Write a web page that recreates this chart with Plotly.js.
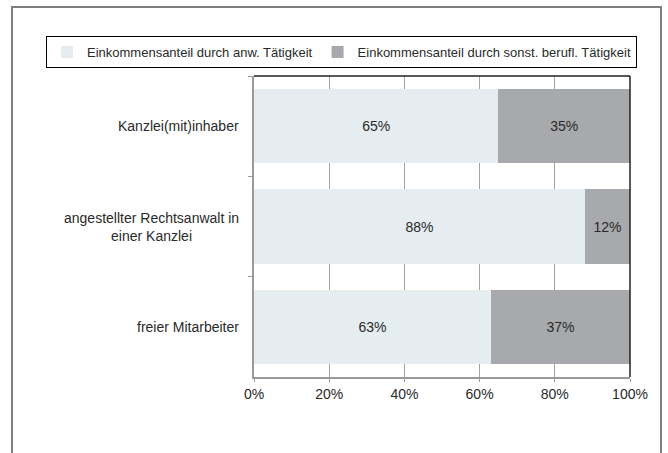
<!DOCTYPE html>
<html>
<head>
<meta charset="utf-8">
<script src="https://cdn.plot.ly/plotly-3.0.1.min.js"></script>
<style>html,body{margin:0;padding:0;background:#fff;}#chart{width:668px;height:453px;}</style>
</head>
<body>
<div id="chart"></div>
<script>
// Data
const categories = ["Kanzlei(mit)inhaber", "angestellter Rechtsanwalt in<br>einer Kanzlei", "freier Mitarbeiter"];
const seriesNames = ["Einkommensanteil durch anw. Tätigkeit", "Einkommensanteil durch sonst. berufl. Tätigkeit"];
const anwValues = [65, 88, 63];
const sonstValues = [35, 12, 37];
const xTickValues = [0, 20, 40, 60, 80, 100];
const xTickLabels = ["0%", "20%", "40%", "60%", "80%", "100%"];

// Layout geometry (pixels)
const W = 668, H = 453;
const L = 254, R = 630, T = 76, B = 377;
const pw = R - L, ph = B - T;
const px = v => (v - L) / pw;
const py = v => (B - v) / ph;

const font = "Arial";

const traces = [
  {
    type: "bar", orientation: "h", name: seriesNames[0],
    y: categories, x: anwValues,
    marker: {color: "#e6edf1", line: {width: 0}},
    text: anwValues.map(v => v + "%"), textposition: "inside",
    insidetextanchor: "middle", textangle: 0, constraintext: "none",
    textfont: {family: font, size: 14, color: "#2a2a2a"},
    hoverinfo: "none"
  },
  {
    type: "bar", orientation: "h", name: seriesNames[1],
    y: categories, x: sonstValues,
    marker: {color: "#a8a9ac", line: {width: 0}},
    text: sonstValues.map(v => v + "%"), textposition: "inside",
    insidetextanchor: "middle", textangle: 0, constraintext: "none",
    textfont: {family: font, size: 14, color: "#2a2a2a"},
    hoverinfo: "none"
  }
];

const annotations = categories.map(c => ({
  xref: "paper", yref: "y", x: 0, y: c, xshift: -13,
  xanchor: "right", yanchor: "middle", align: "center",
  text: c, showarrow: false,
  font: {family: font, size: 14, color: "#2a2a2a"}
}));

const layout = {
  width: W, height: H,
  margin: {l: L, r: W - R, t: T, b: H - B, pad: 0},
  paper_bgcolor: "#ffffff", plot_bgcolor: "#ffffff",
  barmode: "stack", bargap: 0.26,
  font: {family: font, size: 14, color: "#2a2a2a"},
  showlegend: true,
  legend: {
    orientation: "h", x: px(46), xanchor: "left", y: py(36), yanchor: "top",
    bordercolor: "#000000", borderwidth: 1, bgcolor: "#ffffff",
    font: {family: font, size: 13, color: "#2a2a2a"},
    itemwidth: 30, traceorder: "normal"
  },
  xaxis: {
    range: [0, 100], tickmode: "array", tickvals: xTickValues, ticktext: xTickLabels,
    showgrid: true, gridcolor: "#a3a3a3", gridwidth: 1,
    showline: true, linecolor: "#9a9a9a", linewidth: 2,
    ticks: "outside", ticklen: 3, tickcolor: "#9a9a9a",
    zeroline: false, fixedrange: true, automargin: false,
    tickfont: {family: font, size: 14, color: "#2a2a2a"}
  },
  yaxis: {
    type: "category", categoryorder: "array", categoryarray: categories,
    autorange: "reversed", showticklabels: false,
    showline: true, linecolor: "#9a9a9a", linewidth: 2,
    ticks: "outside", tickson: "boundaries", ticklen: 4, tickcolor: "#9a9a9a",
    showgrid: false, zeroline: false, fixedrange: true, automargin: false
  },
  annotations: annotations,
  shapes: [
    {type: "rect", xref: "paper", yref: "paper", layer: "below",
     x0: px(12), x1: px(661), y0: py(470), y1: py(7),
     line: {color: "#7f7f7f", width: 2}, fillcolor: "rgba(0,0,0,0)"},
    {type: "line", xref: "paper", yref: "paper", layer: "above",
     x0: 0, x1: 1, y0: 1, y1: 1, line: {color: "#222222", width: 1.5}},
    {type: "line", xref: "paper", yref: "paper", layer: "above",
     x0: 1, x1: 1, y0: 0, y1: 1, line: {color: "#222222", width: 1.5}}
  ]
};

Plotly.newPlot("chart", traces, layout, {displayModeBar: false, staticPlot: true});
</script>
</body>
</html>
